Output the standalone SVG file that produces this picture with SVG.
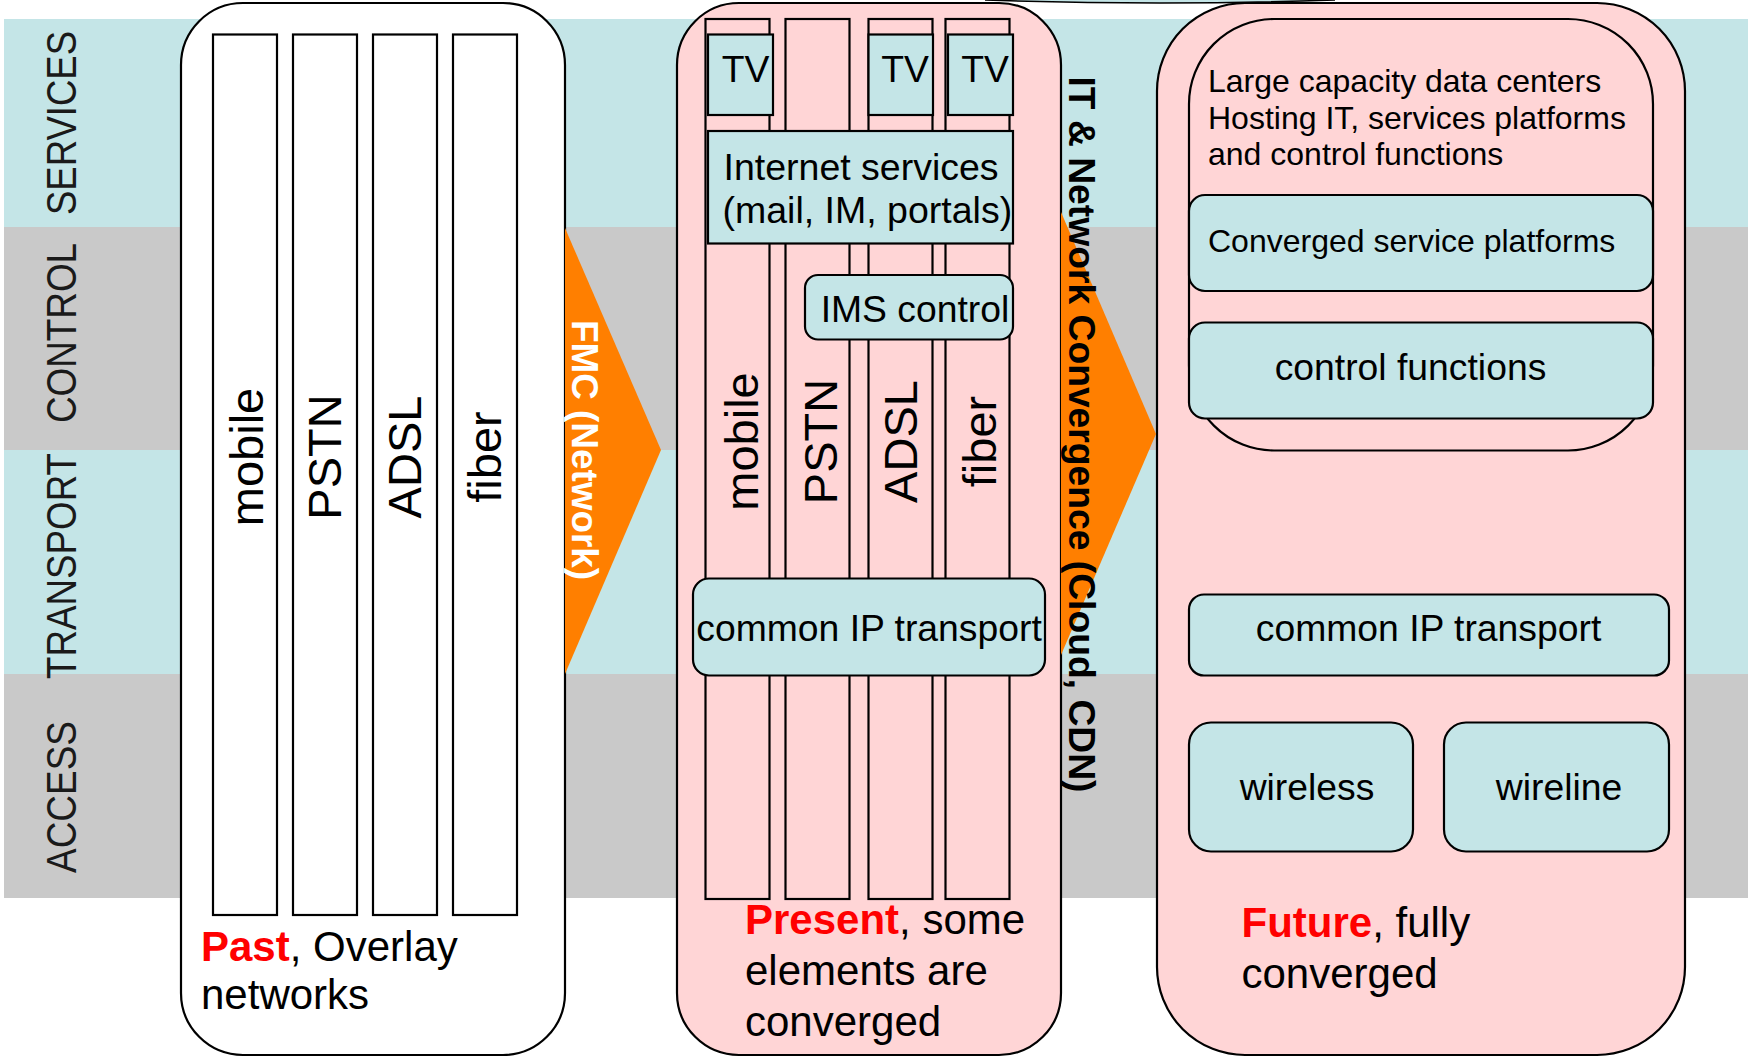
<svg xmlns="http://www.w3.org/2000/svg" width="1748" height="1057" viewBox="0 0 1748 1057">
<style>
.band-b{fill:#C4E5E7}
.band-g{fill:#C9C9C9}
.lbl{font-family:"Liberation Sans",Arial,sans-serif;font-size:42px;fill:#1a1a1a}
.t{font-family:"Liberation Sans",Arial,sans-serif;fill:#000}
.col{font-size:47px}
.m{font-size:37.3px}
.s{font-size:32px}
.cap{font-size:42px}
.red{fill:#FF0000;font-weight:bold}
.box{stroke:#000;stroke-width:2.2}
.white{fill:#fff}
.pink{fill:#FFD5D6}
.blue{fill:#C4E5E7}
.arrow{fill:#FF7F00}
</style>
<g id="bands">
  <rect class="band-b" x="4" y="19" width="1744" height="208"/>
  <rect class="band-g" x="4" y="227" width="1744" height="223"/>
  <rect class="band-b" x="4" y="450" width="1744" height="224"/>
  <rect class="band-g" x="4" y="674" width="1744" height="224"/>
  <text class="lbl" transform="translate(76,123) rotate(-90)" text-anchor="middle" textLength="184" lengthAdjust="spacingAndGlyphs">SERVICES</text>
  <text class="lbl" transform="translate(76,333) rotate(-90)" text-anchor="middle" textLength="180" lengthAdjust="spacingAndGlyphs">CONTROL</text>
  <text class="lbl" transform="translate(76,566) rotate(-90)" text-anchor="middle" textLength="226" lengthAdjust="spacingAndGlyphs">TRANSPORT</text>
  <text class="lbl" transform="translate(76,797) rotate(-90)" text-anchor="middle" textLength="152" lengthAdjust="spacingAndGlyphs">ACCESS</text>
</g>
<path d="M985,0 Q1160,6 1335,0" fill="#C4E5E7" stroke="#000" stroke-width="1.6"/>
<g id="past">
  <rect class="box white" x="181" y="3" width="384" height="1052" rx="62" ry="62"/>
  <rect class="box white" x="213" y="34.5" width="64" height="880.5"/>
  <rect class="box white" x="293" y="34.5" width="64" height="880.5"/>
  <rect class="box white" x="373" y="34.5" width="64" height="880.5"/>
  <rect class="box white" x="453" y="34.5" width="64" height="880.5"/>
  <text class="t col" transform="translate(263,457) rotate(-90)" text-anchor="middle">mobile</text>
  <text class="t col" transform="translate(341,457) rotate(-90)" text-anchor="middle">PSTN</text>
  <text class="t col" transform="translate(421,457) rotate(-90)" text-anchor="middle">ADSL</text>
  <text class="t col" transform="translate(501,457) rotate(-90)" text-anchor="middle">fiber</text>
  <text class="t cap" x="201" y="961"><tspan class="red">Past</tspan>, Overlay</text>
  <text class="t cap" x="201" y="1009">networks</text>
</g>
<g id="present">
  <rect class="box pink" x="677" y="3" width="384" height="1052" rx="62" ry="62"/>
  <rect class="box pink" x="705.5" y="19" width="64" height="880"/>
  <rect class="box pink" x="785.5" y="19" width="64" height="880"/>
  <rect class="box pink" x="868.5" y="19" width="64" height="880"/>
  <rect class="box pink" x="945.5" y="19" width="64" height="880"/>
  <text class="t col" transform="translate(758,441.5) rotate(-90)" text-anchor="middle">mobile</text>
  <text class="t col" transform="translate(837,441.5) rotate(-90)" text-anchor="middle">PSTN</text>
  <text class="t col" transform="translate(917,441.5) rotate(-90)" text-anchor="middle">ADSL</text>
  <text class="t col" transform="translate(996,441.5) rotate(-90)" text-anchor="middle">fiber</text>
</g>
<g id="tv1">
  <rect class="box blue" x="708" y="34.5" width="65" height="80.5"/>
  <text class="t m" x="745.5" y="81.5" text-anchor="middle">TV</text>
</g>
<g id="tv3">
  <rect class="box blue" x="868.5" y="34.5" width="64.5" height="80.5"/>
  <text class="t m" x="905" y="81.5" text-anchor="middle">TV</text>
</g>
<g id="tv4">
  <rect class="box blue" x="948" y="34.5" width="65" height="80.5"/>
  <text class="t m" x="985" y="81.5" text-anchor="middle">TV</text>
</g>
<g id="internet-services">
  <rect class="box blue" x="708" y="131" width="305" height="112.5"/>
  <text class="t" style="font-size:37.5px" x="723.5" y="180">Internet services</text>
  <text class="t" style="font-size:37.5px" x="722.5" y="222.5">(mail, IM, portals)</text>
</g>
<g id="ims-control">
  <rect class="box blue" x="805" y="275" width="208" height="64.5" rx="13" ry="13"/>
  <text class="t m" x="915" y="321.5" text-anchor="middle">IMS control</text>
</g>
<g id="present-ip">
  <rect class="box blue" x="693" y="578.5" width="352" height="97" rx="16" ry="16"/>
  <text class="t m" x="869" y="641" text-anchor="middle">common IP transport</text>
</g>
<g id="present-caption">
  <text class="t cap" x="745" y="934"><tspan class="red">Present</tspan>, some</text>
  <text class="t cap" x="745" y="985">elements are</text>
  <text class="t cap" x="745" y="1036">converged</text>
</g>
<g id="future">
  <rect class="box pink" x="1157" y="3" width="528" height="1052" rx="88" ry="88"/>
  <text class="t cap" x="1241.5" y="937"><tspan class="red">Future</tspan>, fully</text>
  <text class="t cap" x="1241.5" y="988">converged</text>
</g>
<g id="data-centers">
  <rect class="box pink" x="1189" y="19" width="464" height="431.5" rx="85" ry="85"/>
  <text class="t s" x="1208" y="91.5">Large capacity data centers</text>
  <text class="t s" x="1208" y="128.5">Hosting IT, services platforms</text>
  <text class="t s" x="1208" y="165">and control functions</text>
</g>
<g id="converged-service-platforms">
  <rect class="box blue" x="1189" y="195" width="464" height="96" rx="16" ry="16"/>
  <text class="t s" x="1208" y="251.5">Converged service platforms</text>
</g>
<g id="control-functions">
  <rect class="box blue" x="1189" y="322.5" width="464" height="96" rx="16" ry="16"/>
  <text class="t m" x="1410.5" y="380" text-anchor="middle">control functions</text>
</g>
<g id="future-ip">
  <rect class="box blue" x="1189" y="594.5" width="480" height="81" rx="15" ry="15"/>
  <text class="t m" x="1428.5" y="641" text-anchor="middle">common IP transport</text>
</g>
<g id="wireless">
  <rect class="box blue" x="1189" y="722.5" width="224" height="129" rx="22" ry="22"/>
  <text class="t m" x="1307" y="800" text-anchor="middle">wireless</text>
</g>
<g id="wireline">
  <rect class="box blue" x="1444" y="722.5" width="225" height="129" rx="22" ry="22"/>
  <text class="t m" x="1559" y="800" text-anchor="middle">wireline</text>
</g>
<g id="connectors">
  <g id="fmc">
    <polygon class="arrow" points="565,228 661,450 565,674"/>
    <text class="t" style="font-size:37.3px;font-weight:bold;fill:#fff" transform="translate(572,450) rotate(90)" text-anchor="middle" textLength="260" lengthAdjust="spacingAndGlyphs">FMC (Network)</text>
  </g>
  <g id="it-network">
    <polygon class="arrow" points="1061,212 1156,434 1061,655"/>
    <text class="t" style="font-size:37.3px;font-weight:bold" transform="translate(1069,434.5) rotate(90)" text-anchor="middle" textLength="716" lengthAdjust="spacingAndGlyphs">IT &amp; Network Convergence (Cloud, CDN)</text>
  </g>
</g>
</svg>
